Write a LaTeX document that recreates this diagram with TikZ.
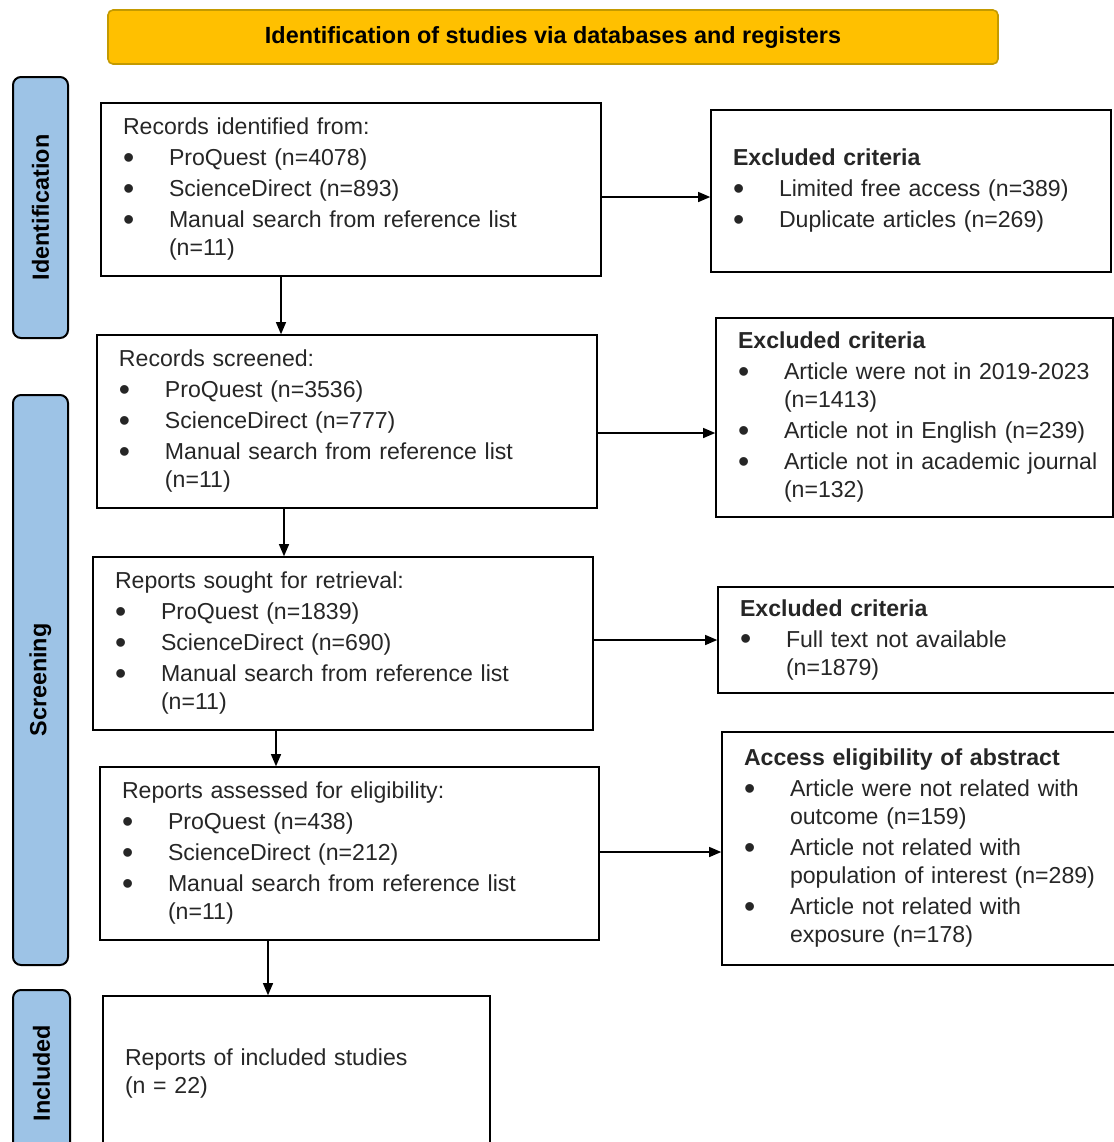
\documentclass[tikz,border=0pt]{standalone}
\usepackage{fontspec}
\setmainfont{Liberation Sans}
\usetikzlibrary{arrows.meta}

\definecolor{bannergold}{HTML}{FFC000}
\definecolor{bannerline}{HTML}{C49A00}
\definecolor{phaseblue}{HTML}{9DC3E6}
\definecolor{inkgray}{HTML}{262626}

\newcommand{\bul}{\makebox[23pt][l]{\raisebox{-1.3pt}{\fontsize{16}{14}\selectfont\textbullet}}}
\newcommand{\cont}{\hspace*{23pt}}

\tikzset{
    box/.style={draw, line width=0.8pt, inner xsep=11pt, align=left, text=inkgray, font=\fontsize{11.55}{14}\selectfont},
    phase/.style={draw, fill=phaseblue, line width=1pt, rounded corners=4pt, rotate=90, font=\fontsize{11.7}{14}\selectfont\bfseries},
    arr/.style={-{Triangle[length=6pt,width=5pt]}, line width=0.6pt},
}

\begin{document}
\begin{tikzpicture}[x=0.5pt,y=-0.5pt]
            \useasboundingbox (0,0) rectangle (1114,1142);

            \node[draw=bannerline, fill=bannergold, line width=0.8pt, rounded corners=2.5pt, minimum width=445pt, minimum height=27pt, font=\fontsize{11.7}{14}\selectfont\bfseries] (banner) at (553,37) {Identification of studies via databases and registers};

            \node[phase, minimum width=130.5pt, minimum height=27.5pt] (ident) at (40.5,207.5) {Identification};
            \node[phase, minimum width=285pt, minimum height=27.5pt] (screen) at (40.5,680) {Screening};
            \node[phase, minimum width=83pt, minimum height=28.5pt] (incl) at (41.5,1073) {Included};

            \node[box, minimum height=86.5pt, text width=228pt] (rec) at (351,189.5) {\begin{tabular}{@{}l@{}}
                Records identified from:\\[1.5pt]
                \bul ProQuest (n=4078)\\[1.5pt]
                \bul ScienceDirect (n=893)\\[1.5pt]
                \bul Manual search from reference list\\
                \cont(n=11)
            \end{tabular}};
            \node[box, minimum height=86.5pt, text width=228pt] (scr) at (347,421.5) {\begin{tabular}{@{}l@{}}
                Records screened:\\[1.5pt]
                \bul ProQuest (n=3536)\\[1.5pt]
                \bul ScienceDirect (n=777)\\[1.5pt]
                \bul Manual search from reference list\\
                \cont(n=11)
            \end{tabular}};
            \node[box, minimum height=86.5pt, text width=228pt] (sought) at (343,643.5) {\begin{tabular}{@{}l@{}}
                Reports sought for retrieval:\\[1.5pt]
                \bul ProQuest (n=1839)\\[1.5pt]
                \bul ScienceDirect (n=690)\\[1.5pt]
                \bul Manual search from reference list\\
                \cont(n=11)
            \end{tabular}};
            \node[box, minimum height=86.5pt, text width=227.5pt] (elig) at (349.5,853.5) {\begin{tabular}{@{}l@{}}
                Reports assessed for eligibility:\\[1.5pt]
                \bul ProQuest (n=438)\\[1.5pt]
                \bul ScienceDirect (n=212)\\[1.5pt]
                \bul Manual search from reference list\\
                \cont(n=11)
            \end{tabular}};
            \node[box, minimum height=78pt, text width=171.5pt] (inc) at (296.5,1074) {\begin{tabular}{@{}l@{}}
                Reports of included studies\\
                (n = 22)
            \end{tabular}};

            \node[box, minimum height=81pt, text width=178pt] (exid) at (911,191) {\begin{tabular}{@{}l@{}}
                \textbf{Excluded criteria}\\[1.5pt]
                \bul Limited free access (n=389)\\[1.5pt]
                \bul Duplicate articles (n=269)
            \end{tabular}};
            \node[box, minimum height=99.5pt, text width=176.5pt] (exscr) at (914.5,417.5) {\begin{tabular}{@{}l@{}}
                \textbf{Excluded criteria}\\[1.5pt]
                \bul Article were not in 2019-2023\\
                \cont(n=1413)\\[1.5pt]
                \bul Article not in English (n=239)\\[1.5pt]
                \bul Article not in academic journal\\
                \cont(n=132)
            \end{tabular}};
            \node[box, minimum height=53pt, text width=177pt] (exsgt) at (917,640) {\begin{tabular}{@{}l@{}}
                \textbf{Excluded criteria}\\[1.5pt]
                \bul Full text not available\\
                \cont(n=1879)
            \end{tabular}};
            \node[box, minimum height=116.5pt, text width=176pt] (exelig) at (920,848.5) {\begin{tabular}{@{}l@{}}
                \textbf{Access eligibility of abstract}\\[1.5pt]
                \bul Article were not related with\\
                \cont outcome (n=159)\\[1.5pt]
                \bul Article not related with\\
                \cont population of interest (n=289)\\[1.5pt]
                \bul Article not related with\\
                \cont exposure (n=178)
            \end{tabular}};

            \draw[arr] ([xshift=-35pt]rec.south) -- ([xshift=-35pt]rec.south |- scr.north);
            \draw[arr] ([xshift=-31.5pt]scr.south) -- ([xshift=-31.5pt]scr.south |- sought.north);
            \draw[arr] ([xshift=-33.5pt]sought.south) -- ([xshift=-33.5pt]sought.south |- elig.north);
            \draw[arr] ([xshift=-40.75pt]elig.south) -- ([xshift=-40.75pt]elig.south |- inc.north);

            \draw[arr] ([yshift=-3.75pt]rec.east) -- ([yshift=-3.75pt]rec.east -| exid.west);
            \draw[arr] ([yshift=-5.75pt]scr.east) -- ([yshift=-5.75pt]scr.east -| exscr.west);
            \draw[arr] ([yshift=1.75pt]sought.east) -- ([yshift=1.75pt]sought.east -| exsgt.west);
            \draw[arr] ([yshift=0.75pt]elig.east) -- ([yshift=0.75pt]elig.east -| exelig.west);
        \end{tikzpicture}
\end{document}
